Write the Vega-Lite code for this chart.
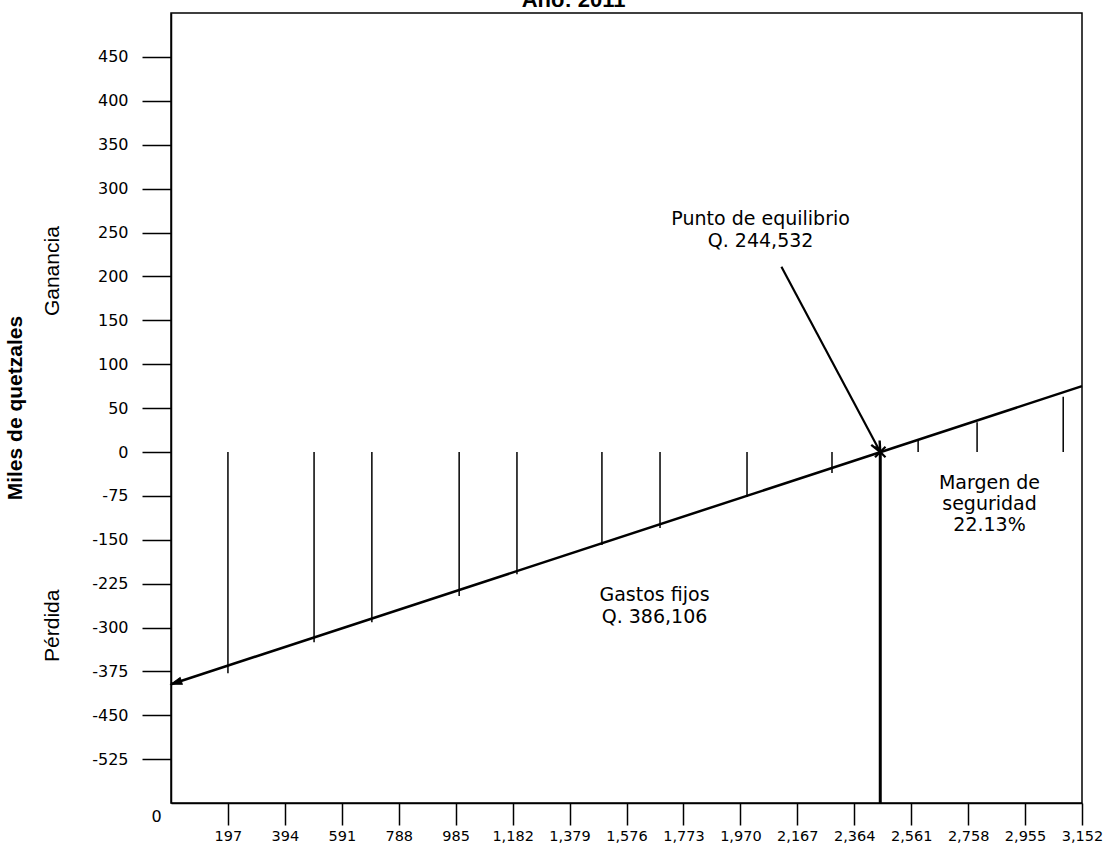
{
  "$schema": "https://vega.github.io/schema/vega-lite/v6.json",
  "width": 911,
  "height": 790,
  "autosize": {"type": "none"},
  "padding": {"left": 171, "top": 13, "right": 35, "bottom": 40},
  "background": "white",
  "config": {"view": {"stroke": "black", "strokeWidth": 1.5}},
  "encoding": {
    "x": {"field": "x", "type": "quantitative",
      "scale": {"domain": [0, 3152], "nice": false, "zero": false},
      "axis": {"values": [197, 394, 591, 788, 985, 1182, 1379, 1576, 1773, 1970, 2167, 2364, 2561, 2758, 2955, 3152],
        "labelExpr": "format(datum.value, ',d')", "title": null, "grid": false, "tickSize": 22, "tickWidth": 1.5, "tickColor": "black",
        "domainColor": "black", "domainWidth": 1.5, "labelFont": "DejaVu Sans", "labelFontSize": 14.5,
        "labelColor": "black", "labelPadding": 4, "labelOverlap": false, "labelFlush": false}},
    "y": {"field": "y", "type": "quantitative",
      "scale": {"domain": [-600, 0, 500], "range": [790, 439, 0], "nice": false, "zero": false},
      "axis": {"values": [450, 400, 350, 300, 250, 200, 150, 100, 50, 0, -75, -150, -225, -300, -375, -450, -525],
        "labelExpr": "datum.value < 0 ? '-' + (-datum.value) : '' + datum.value",
        "title": null, "grid": false, "tickSize": 29, "tickWidth": 1.5, "tickColor": "black",
        "domainColor": "black", "domainWidth": 1.5, "labelFont": "DejaVu Sans", "labelFontSize": 16,
        "labelColor": "black", "labelPadding": 14, "labelOverlap": false, "labelFlush": false}}
  },
  "layer": [
    {
      "data": {"values": [{"y": 75}, {"y": 0}, {"y": -397}]},
      "mark": {"type": "rule", "color": "black", "strokeWidth": 1.6},
      "encoding": {"x": {"datum": 0}, "x2": {"datum": 3152}}
    },
    {
      "data": {"values": [
        {"mes": 1, "x": 197, "y": -378},
        {"mes": 2, "x": 495, "y": -325},
        {"mes": 3, "x": 695, "y": -291},
        {"mes": 4, "x": 997, "y": -246},
        {"mes": 5, "x": 1197, "y": -209},
        {"mes": 6, "x": 1491, "y": -159},
        {"mes": 7, "x": 1692, "y": -130},
        {"mes": 8, "x": 1993, "y": -77},
        {"mes": 9, "x": 2287, "y": -36},
        {"mes": 10, "x": 2585, "y": 14},
        {"mes": 11, "x": 2789, "y": 34},
        {"mes": 12, "x": 3087, "y": 63}
      ]},
      "mark": {"type": "rule", "color": "black", "strokeWidth": 1.5},
      "encoding": {"y2": {"datum": 0}}
    },
    {
      "data": {"values": [{"x": 0, "y": -397}, {"x": 3152, "y": 75}]},
      "mark": {"type": "line", "color": "black", "strokeWidth": 2.5},
      "encoding": {}
    },
    {
      "data": {"values": [{"x": 2112, "y": 211}, {"x": 2454, "y": 0}]},
      "mark": {"type": "line", "color": "black", "strokeWidth": 2.2},
      "encoding": {}
    },
    {
      "data": {"values": [{"x": 2454, "y": 0}]},
      "mark": {"type": "rule", "color": "black", "strokeWidth": 3},
      "encoding": {"y2": {"datum": -600}}
    },
    {
      "data": {"values": [{"x": 2454, "y": 0}]},
      "mark": {"type": "point", "shape": "M-2,-0.9L0,0L-2,0.9", "size": 110, "angle": 62.6, "filled": false, "stroke": "black", "strokeWidth": 2.4, "opacity": 1},
      "encoding": {}
    },
    {
      "data": {"values": [{"x": 2454, "y": 0}]},
      "mark": {"type": "point", "shape": "M-1,-1L1,1M-1,1L1,-1", "size": 110, "filled": false, "stroke": "black", "strokeWidth": 2.2, "opacity": 1},
      "encoding": {}
    },
    {
      "data": {"values": [{"x": 0, "y": -397}]},
      "mark": {"type": "point", "shape": "M0,0L2.4,-0.8L2.4,0.8Z", "size": 80, "angle": -18, "filled": true, "fill": "black", "stroke": "black", "strokeWidth": 1, "opacity": 1},
      "encoding": {}
    },
    {
      "data": {"values": [{"x": 1393, "y": 507, "text": "Año: 2011"}]},
      "mark": {"type": "text", "font": "Liberation Sans", "fontSize": 22, "fontWeight": "bold", "color": "black", "align": "center", "baseline": "alphabetic"},
      "encoding": {"text": {"field": "text"}}
    },
    {
      "data": {"values": [
        {"x": 2040, "y": 265, "text": "Punto de equilibrio"},
        {"x": 2040, "y": 240, "text": "Q. 244,532"},
        {"x": 2832, "y": -53, "text": "Margen de"},
        {"x": 2832, "y": -89, "text": "seguridad"},
        {"x": 2832, "y": -124, "text": "22.13%"},
        {"x": 1673, "y": -244, "text": "Gastos fijos"},
        {"x": 1673, "y": -282, "text": "Q. 386,106"}
      ]},
      "mark": {"type": "text", "font": "DejaVu Sans", "fontSize": 19, "color": "black", "align": "center", "baseline": "middle"},
      "encoding": {"text": {"field": "text"}}
    },
    {
      "data": {"values": [
        {"x": -410, "y": 206, "text": "Ganancia"},
        {"x": -410, "y": -297, "text": "Pérdida"}
      ]},
      "mark": {"type": "text", "font": "Liberation Sans", "fontSize": 21, "color": "black", "align": "center", "baseline": "middle", "angle": 270},
      "encoding": {"text": {"field": "text"}}
    },
    {
      "data": {"values": [{"x": -535, "y": 50, "text": "Miles de quetzales"}]},
      "mark": {"type": "text", "font": "Liberation Sans", "fontSize": 21, "fontWeight": "bold", "color": "black", "align": "center", "baseline": "middle", "angle": 270},
      "encoding": {"text": {"field": "text"}}
    },
    {
      "data": {"values": [{"x": -50, "y": -624, "text": "0"}]},
      "mark": {"type": "text", "font": "DejaVu Sans", "fontSize": 16, "color": "black", "align": "center", "baseline": "middle"},
      "encoding": {"text": {"field": "text"}}
    }
  ]
}
